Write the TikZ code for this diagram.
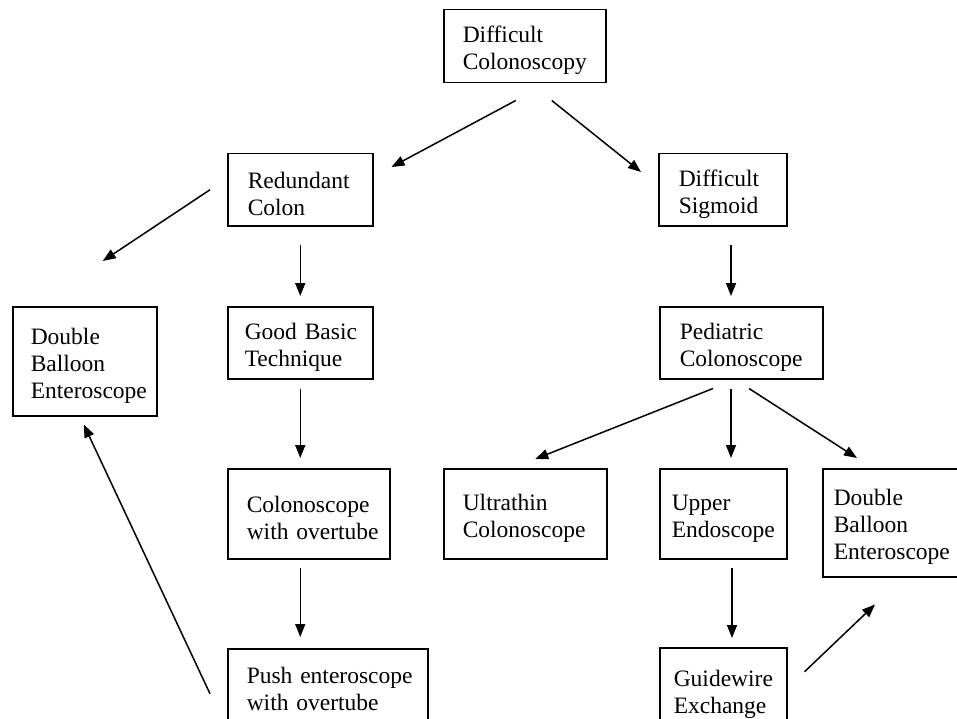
\documentclass[tikz,border=0pt]{standalone}
\usepackage{fontspec}
\setmainfont{Liberation Serif}
\usetikzlibrary{arrows.meta,calc}
\hyphenpenalty=10000
\exhyphenpenalty=10000
\tikzset{
  wordbox/.style={draw, line width=1.5pt, rectangle, anchor=north west,
                  inner xsep=0pt, inner ysep=0pt, align=left,
                  font=\fontsize{23.5}{27}\selectfont,
                  execute at begin node={\rule{0pt}{25pt}}},
  % plain Word-style connector, free-floating between the boxes
  flow/.style={draw, line width=1.5pt, -{Triangle[length=13pt,width=10pt]}},
}
\newcommand{\flow}[2]{\draw[flow] (#1) -- (#2);}
% name / left / top / width / height / left pad / text
\def\boxlist{%
  diffcol/443/9/162/73/19/{Difficult\\Colonoscopy},
  redundant/227/153/145/72/20/{Redundant\\Colon},
  sigmoid/658/153/128/72/20/{Difficult\\Sigmoid},
  leftdb/12/306/144/109/18/{Double\\Balloon\\Enteroscope},
  goodbasic/227/306/145/72/17/{Good~Basic\\Technique},
  pediatric/659/306/163/72/20/{Pediatric\\Colonoscope},
  colover/227/468/162/90/19/{Colonoscope\\with~overtube},
  ultrathin/443/468/163/90/19/{Ultrathin\\Colonoscope},
  upper/659/468/127/90/12/{Upper\\Endoscope},
  rightdb/822/468/142/108/11/{Double\\Balloon\\Enteroscope},
  push/227/648/200/72/19/{Push~enteroscope\\with~overtube},
  guidewire/659/647/127/84/14/{Guidewire\\Exchange}}

\begin{document}
\begin{tikzpicture}[x=1pt,y=-1pt]
  \clip (0,0) rectangle (957,719);
  \foreach \n/\x/\y/\w/\h/\p/\txt in \boxlist {%
    \pgfmathsetmacro\tw{\w-2*\p}
    \node[wordbox, minimum width=\w pt, minimum height=\h pt,
          text width=\tw pt] (\n) at (\x,\y) {\txt};}
  % left branch
  \flow{$(diffcol.south)+(-9,17)$}{$(redundant.north east)+(18,14)$}
  \flow{$(redundant.west)+(-17,0)$}{$(leftdb.north)+(18,-45)$}
  \flow{$(goodbasic.south |- redundant.south)+(0,18)$}{$(goodbasic.north)+(0,-10)$}
  \flow{$(goodbasic.south)+(0,9)$}{$(goodbasic.south |- colover.north)+(0,-10)$}
  \flow{$(goodbasic.south |- colover.south)+(0,8)$}{$(goodbasic.south |- push.north)+(0,-11)$}
  \flow{$(push.west)+(-17,9)$}{$(leftdb.south)+(-1,8)$}
  % right branch
  \flow{$(diffcol.south)+(27,17)$}{$(sigmoid.north west)+(-17,19)$}
  \flow{$(sigmoid.south west)+(73,18)$}{$(pediatric.north west)+(72,-10)$}
  \flow{$(pediatric.south west)+(54,9)$}{$(ultrathin.north)+(10,-9)$}
  \flow{$(pediatric.south west)+(72,9)$}{$(upper.north west)+(72,-10)$}
  \flow{$(pediatric.south west)+(90,9)$}{$(rightdb.north west)+(35,-10)$}
  \flow{$(upper.south west)+(73,8)$}{$(guidewire.north west)+(73,-9)$}
  \flow{$(guidewire.east)+(17,-18)$}{$(rightdb.south west)+(53,27)$}
\end{tikzpicture}
\end{document}
